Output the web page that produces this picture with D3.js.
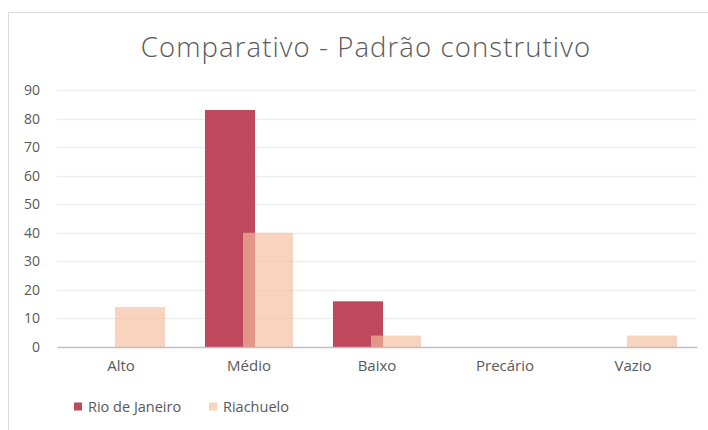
<!DOCTYPE html>
<html><head><meta charset="utf-8">
<script src="https://cdn.jsdelivr.net/npm/d3@7/dist/d3.min.js"></script>
<style>body{margin:0;background:#fff}svg{display:block}</style>
</head><body>
<svg id="c" width="708" height="430"></svg>
<script>
const categories = ["Alto","Médio","Baixo","Precário","Vazio"];
const rioValues = [0,83,16,0,0];
const riachueloValues = [14,40,4,0,4];
const seriesNames = ["Rio de Janeiro","Riachuelo"];
const yTicks = [0,10,20,30,40,50,60,70,80,90];
const title = "Comparativo - Padrão construtivo";

const svg = d3.select("#c");
const W=708,H=430;
const m={left:57,right:11,top:90,bottom:83};
const x = d3.scaleBand().domain(categories).range([m.left, W-m.right]).padding(0);
const y = d3.scaleLinear().domain([0,90]).range([H-m.bottom, m.top]);
const font = "'Open Sans', 'Noto Sans', sans-serif";
const txt = "#595959";

svg.append("rect").attr("x",8.5).attr("y",12.5).attr("width",760).attr("height",500)
  .attr("fill","#fff").attr("stroke","#d9d9d9");

svg.append("text").attr("x",366).attr("y",57).attr("text-anchor","middle")
  .attr("font-family",font).attr("font-weight",300).attr("font-size",27.5)
  .attr("letter-spacing",1.1)
  .attr("fill",txt).text(title);

// gridlines
svg.append("g").selectAll("line").data(yTicks.filter(d=>d>0)).join("line")
  .attr("x1",m.left).attr("x2",W-m.right)
  .attr("y1",d=>Math.round(y(d))+0.5).attr("y2",d=>Math.round(y(d))+0.5)
  .attr("stroke","#eeeeee").attr("stroke-width",1.5);

// y axis
const ya = svg.append("g").attr("transform",`translate(${m.left},0)`)
  .call(d3.axisLeft(y).tickValues(yTicks).tickSize(0).tickPadding(17));
ya.select(".domain").remove();
ya.selectAll("text").attr("font-family",font).attr("font-size",14).attr("fill",txt);

const bw = 50, off = 19;
svg.append("g").selectAll("rect").data(categories).join("rect")
  .attr("x",(d,i)=>x(d)+x.bandwidth()/2-off-bw/2)
  .attr("width",bw)
  .attr("y",(d,i)=>y(rioValues[i]))
  .attr("height",(d,i)=>y(0)-y(rioValues[i]))
  .attr("fill","#c0485c");
svg.append("g").selectAll("rect").data(categories).join("rect")
  .attr("x",(d,i)=>x(d)+x.bandwidth()/2+off-bw/2)
  .attr("width",bw)
  .attr("y",(d,i)=>y(riachueloValues[i]))
  .attr("height",(d,i)=>y(0)-y(riachueloValues[i]))
  .attr("fill","#f5be9d").attr("fill-opacity",0.67);

// x axis
const xa = svg.append("g").attr("transform",`translate(0,${y(0)})`)
  .call(d3.axisBottom(x).tickSize(0).tickPadding(13));
xa.select(".domain").attr("stroke","#bfbfbf").attr("stroke-width",1.3);
xa.selectAll("text").attr("font-family",font).attr("font-size",15).attr("fill",txt);

// legend
const colors=["#c0485c","#f8d3bd"];
const lx=[74,209];
const lg = svg.append("g").selectAll("g").data(seriesNames).join("g")
  .attr("transform",(d,i)=>`translate(${lx[i]},406.5)`);
lg.append("rect").attr("x",0).attr("y",-4).attr("width",8).attr("height",8).attr("fill",(d,i)=>colors[i]);
lg.append("text").attr("x",14).attr("y",5).attr("font-family",font).attr("font-size",14.5)
  .attr("fill",txt).text(d=>d);
</script>
</body></html>
